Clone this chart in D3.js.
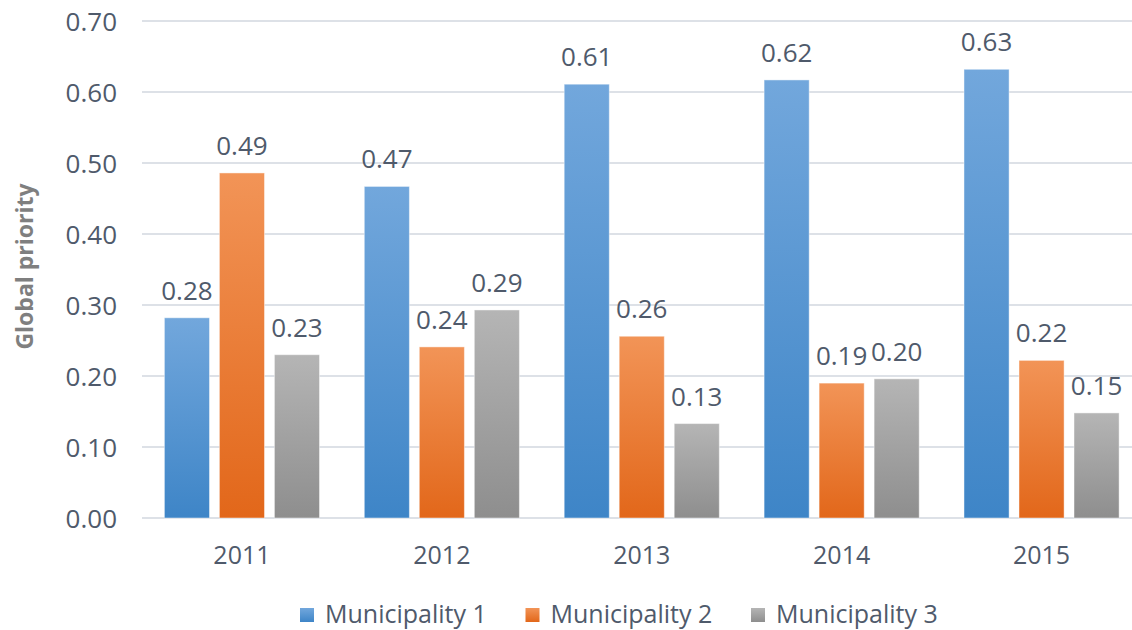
<!DOCTYPE html>
<html lang="en">
<head>
    <meta charset="UTF-8">
    <title>Global priority by municipality</title>
    <script src="https://cdnjs.cloudflare.com/ajax/libs/d3/7.8.2/d3.min.js"></script>
    <style>
        html, body { margin: 0; padding: 0; background: #fff; }
        svg { display: block; font-family: "Open Sans", sans-serif; }
    </style>
</head>
<body>
    <div id="chart"></div>

    <script>
        // data
        const years = ["2011", "2012", "2013", "2014", "2015"];
        const seriesNames = ["Municipality 1", "Municipality 2", "Municipality 3"];
        const municipality1 = [0.282, 0.467, 0.611, 0.617, 0.632];
        const municipality2 = [0.486, 0.241, 0.256, 0.190, 0.222];
        const municipality3 = [0.230, 0.293, 0.133, 0.196, 0.148];
        const yTicks = [0, 0.1, 0.2, 0.3, 0.4, 0.5, 0.6, 0.7];

        const seriesValues = [municipality1, municipality2, municipality3];
        const rows = years.map((yr, i) => ({
            year: yr,
            values: seriesNames.map((name, s) => ({ key: name, value: seriesValues[s][i] }))
        }));

        const width = 1132;
        const height = 630;
        const plot = { left: 142, right: 1141.5, top: 21, bottom: 518 };

        const gradients = {
            "Municipality 1": ["#72a7dc", "#3e85c7"],
            "Municipality 2": ["#f29457", "#e2671a"],
            "Municipality 3": ["#b5b5b5", "#8e8e8e"]
        };
        const textColor = "#4f5a6b";

        const svg = d3.select("#chart")
            .append("svg")
            .attr("width", width)
            .attr("height", height);

        const defs = svg.append("defs");
        seriesNames.forEach((name, i) => {
            const g = defs.append("linearGradient")
                .attr("id", "grad" + i)
                .attr("x1", 0).attr("y1", 0)
                .attr("x2", 0).attr("y2", 1);
            g.append("stop").attr("offset", "0%").attr("stop-color", gradients[name][0]);
            g.append("stop").attr("offset", "100%").attr("stop-color", gradients[name][1]);
        });

        const x0 = d3.scaleBand()
            .domain(years)
            .range([plot.left, plot.right])
            .paddingInner(0.224)
            .paddingOuter(0.112);

        const x1 = d3.scaleBand()
            .domain(seriesNames)
            .range([0, x0.bandwidth()])
            .paddingInner(0.18);

        const y = d3.scaleLinear()
            .domain([0, 0.7])
            .range([plot.bottom, plot.top]);

        // gridlines
        svg.append("g")
            .selectAll("line")
            .data(yTicks)
            .enter().append("line")
            .attr("x1", plot.left)
            .attr("x2", plot.right)
            .attr("y1", d => y(d))
            .attr("y2", d => y(d))
            .attr("stroke", "#dde1e7")
            .attr("stroke-width", 2);

        // y axis labels
        const yAxis = svg.append("g")
            .attr("transform", `translate(${plot.left - 25},0)`)
            .call(d3.axisLeft(y).tickValues(yTicks).tickFormat(d3.format(".2f")).tickSize(0).tickPadding(0));
        yAxis.select(".domain").remove();
        yAxis.selectAll("text")
            .attr("fill", textColor)
            .style("font-size", "26px")
            .style("font-family", "'Open Sans', sans-serif")
            .attr("dy", "0.35em");

        // x axis labels
        const xAxis = svg.append("g")
            .attr("transform", `translate(0,${plot.bottom})`)
            .call(d3.axisBottom(x0).tickSize(0).tickPadding(0));
        xAxis.select(".domain").remove();
        xAxis.selectAll("text")
            .attr("fill", textColor)
            .attr("y", 37)
            .attr("dy", "0.35em")
            .style("font-size", "25px")
            .style("font-family", "'Open Sans', sans-serif");

        // bars
        const groups = svg.append("g")
            .selectAll("g")
            .data(rows)
            .enter().append("g")
            .attr("transform", d => `translate(${x0(d.year)},0)`);

        groups.selectAll("rect")
            .data(d => d.values)
            .enter().append("rect")
            .attr("x", d => x1(d.key))
            .attr("y", d => y(d.value))
            .attr("width", x1.bandwidth())
            .attr("height", d => y(0) - y(d.value))
            .attr("fill", d => `url(#grad${seriesNames.indexOf(d.key)})`)
            .attr("stroke", "rgba(255,255,255,0.45)")
            .attr("stroke-width", 1);

        // data labels
        groups.selectAll("text")
            .data(d => d.values)
            .enter().append("text")
            .attr("x", d => x1(d.key) + x1.bandwidth() / 2)
            .attr("y", d => y(d.value) - 18)
            .attr("text-anchor", "middle")
            .attr("fill", textColor)
            .style("font-size", "26px")
            .text(d => d3.format(".2f")(d.value));

        // axis title
        svg.append("text")
            .attr("transform", `translate(33,${(plot.top + plot.bottom) / 2 - 3}) rotate(-90)`)
            .attr("text-anchor", "middle")
            .attr("fill", "#7f7f7f")
            .style("font-size", "23px")
            .style("font-weight", "bold")
            .text("Global priority");

        // legend
        const legend = svg.append("g")
            .attr("transform", "translate(300,614)");

        const items = legend.selectAll("g")
            .data(seriesNames)
            .enter().append("g")
            .attr("transform", (d, i) => `translate(${i * 225.5},0)`);

        items.append("rect")
            .attr("x", 0)
            .attr("y", -6)
            .attr("width", 14)
            .attr("height", 14)
            .attr("fill", d => `url(#grad${seriesNames.indexOf(d)})`);

        items.append("text")
            .attr("x", 25)
            .attr("y", 0)
            .attr("dy", "0.35em")
            .attr("fill", textColor)
            .style("font-size", "25px")
            .text(d => d);
    </script>
</body>
</html>
